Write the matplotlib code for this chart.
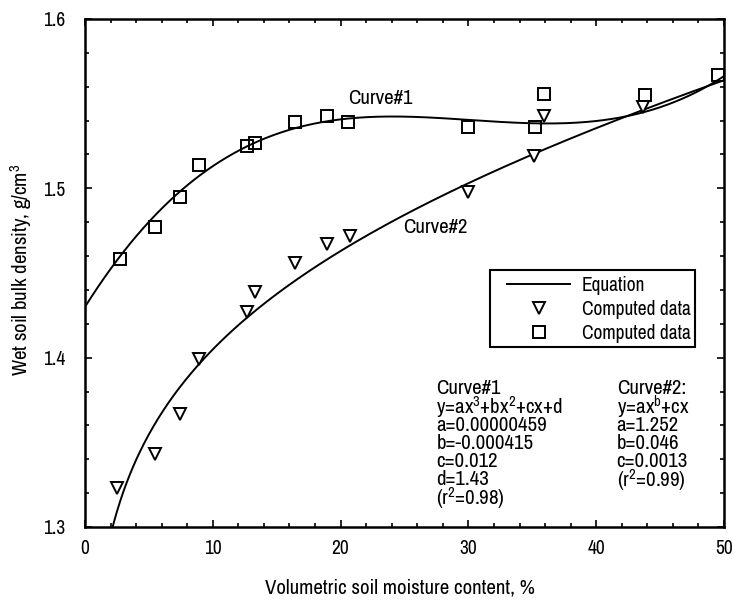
import numpy as np
import matplotlib
matplotlib.use("Agg")
import matplotlib.pyplot as plt
from matplotlib.ticker import MultipleLocator, FixedLocator, FixedFormatter
from matplotlib.lines import Line2D
from matplotlib.patches import Rectangle

plt.rcParams['font.family'] = ['Archivo Narrow', 'DejaVu Sans']
plt.rcParams['mathtext.fontset'] = 'custom'
plt.rcParams['mathtext.rm'] = 'Archivo Narrow'
plt.rcParams['mathtext.it'] = 'Archivo Narrow'
plt.rcParams['mathtext.default'] = 'regular'

# Computed data points (moisture %, bulk density g/cm3)
tri_x = [2.5, 5.5, 7.4, 8.9, 12.7, 13.3, 16.4, 18.9, 20.7, 30.0, 35.1, 35.9, 43.7]
tri_y = [1.323, 1.343, 1.367, 1.399, 1.427, 1.439, 1.456, 1.467, 1.472, 1.498, 1.519, 1.543, 1.548]

sq_x = [2.7, 5.5, 7.4, 8.9, 12.7, 13.3, 16.4, 18.9, 20.6, 30.0, 35.2, 35.9, 43.8, 49.5]
sq_y = [1.458, 1.477, 1.495, 1.514, 1.525, 1.527, 1.539, 1.543, 1.539, 1.536, 1.536, 1.556, 1.555, 1.567]

# Fitted equation coefficients
curve1_coef = [0.00000459, -0.000415, 0.012, 1.43]   # y = ax^3 + bx^2 + cx + d
curve2_coef = [1.252, 0.046, 0.0013]                   # y = a x^b + c x

x_ticks = [0, 10, 20, 30, 40, 50]
y_ticks = [1.3, 1.4, 1.5, 1.6]
y_tick_labels = ["1.3", "1.4", "1.5", "1.6"]

W, H = 733, 601
L, R, T, B = 85, 724, 19, 527
fig = plt.figure(figsize=(W / 100, H / 100), dpi=100)
ax = fig.add_axes([L / W, 1 - B / H, (R - L) / W, (B - T) / H])


def ax_frac(px, py):
    """Pixel position on the canvas -> axes fraction."""
    return (px - L) / (R - L), (B - py) / (B - T)


xs1 = np.linspace(0, 50.4, 400)
a, b, c, d = curve1_coef
ax.plot(xs1, a * xs1**3 + b * xs1**2 + c * xs1 + d, color='black', lw=1.4)

xs2 = np.linspace(0.5, 50.4, 400)
a2, b2, c2 = curve2_coef
ax.plot(xs2, a2 * xs2**b2 + c2 * xs2, color='black', lw=1.4)

ax.plot(tri_x, tri_y, linestyle='none', marker='v', markersize=8,
        markerfacecolor='white', markeredgecolor='black', markeredgewidth=1.4)
ax.plot(sq_x, sq_y, linestyle='none', marker='s', markersize=8.5,
        markerfacecolor='none', markeredgecolor='black', markeredgewidth=1.4)

ax.set_xlim(0, 50)
ax.set_ylim(1.3, 1.6)
ax.xaxis.set_major_locator(FixedLocator(x_ticks))
ax.xaxis.set_minor_locator(MultipleLocator(2))
ax.yaxis.set_major_locator(FixedLocator(y_ticks))
ax.yaxis.set_major_formatter(FixedFormatter(y_tick_labels))
ax.yaxis.set_minor_locator(MultipleLocator(0.02))
ax.tick_params(which='both', direction='in', top=True, right=True, width=1.2)
ax.tick_params(which='major', length=5, labelsize=14)
ax.tick_params(which='minor', length=3)
ax.tick_params(axis='x', pad=9)
ax.tick_params(axis='y', pad=14)
for sp in ax.spines.values():
    sp.set_linewidth(1.8)

ax.set_xlabel("Volumetric soil moisture content, %", fontsize=15)
ax.xaxis.set_label_coords(*ax_frac(400, 579))
ax.set_ylabel("Wet soil bulk density, g/cm$^3$", fontsize=15)
ax.yaxis.set_label_coords(*ax_frac(34, 270))

ax.text(20.6, 1.553, "Curve#1", fontsize=15, va='center', ha='left')
ax.text(24.9, 1.477, "Curve#2", fontsize=15, va='center', ha='left')

# Legend with a hand-placed frame
handles = [
    Line2D([], [], color='black', lw=1.4),
    Line2D([], [], linestyle='none', marker='v', markersize=8,
           markerfacecolor='white', markeredgecolor='black', markeredgewidth=1.4),
    Line2D([], [], linestyle='none', marker='s', markersize=8,
           markerfacecolor='none', markeredgecolor='black', markeredgewidth=1.4),
]
leg = ax.legend(handles, ["Equation", "Computed data", "Computed data"],
                loc='upper left', bbox_to_anchor=ax_frac(507, 276),
                fontsize=14, frameon=False,
                handlelength=3.25, handletextpad=0.6, labelspacing=0.26,
                borderpad=0, borderaxespad=0)
fx0, fy0 = ax_frac(490, 347)
fx1, fy1 = ax_frac(695, 270)
ax.add_patch(Rectangle((fx0, fy0), fx1 - fx0, fy1 - fy0, transform=ax.transAxes,
                       facecolor='white', edgecolor='black', lw=1.5, zorder=4))
leg.set_zorder(5)

eq1 = ["Curve#1", "y=ax$^3$+bx$^2$+cx+d", "a=0.00000459", "b=-0.000415",
       "c=0.012", "d=1.43", "(r$^2$=0.98)"]
eq2 = ["Curve#2:", "y=ax$^b$+cx", "a=1.252", "b=0.046", "c=0.0013", "(r$^2$=0.99)"]

line_h = 18.2 / 1690
y0 = 1.3 + (527 - 389) / 1690
for i, s in enumerate(eq1):
    ax.text(27.5, y0 - i * line_h, s, fontsize=15, va='center', ha='left')
for i, s in enumerate(eq2):
    ax.text(41.6, y0 - i * line_h, s, fontsize=15, va='center', ha='left')

fig.savefig("out.png", dpi=100)
